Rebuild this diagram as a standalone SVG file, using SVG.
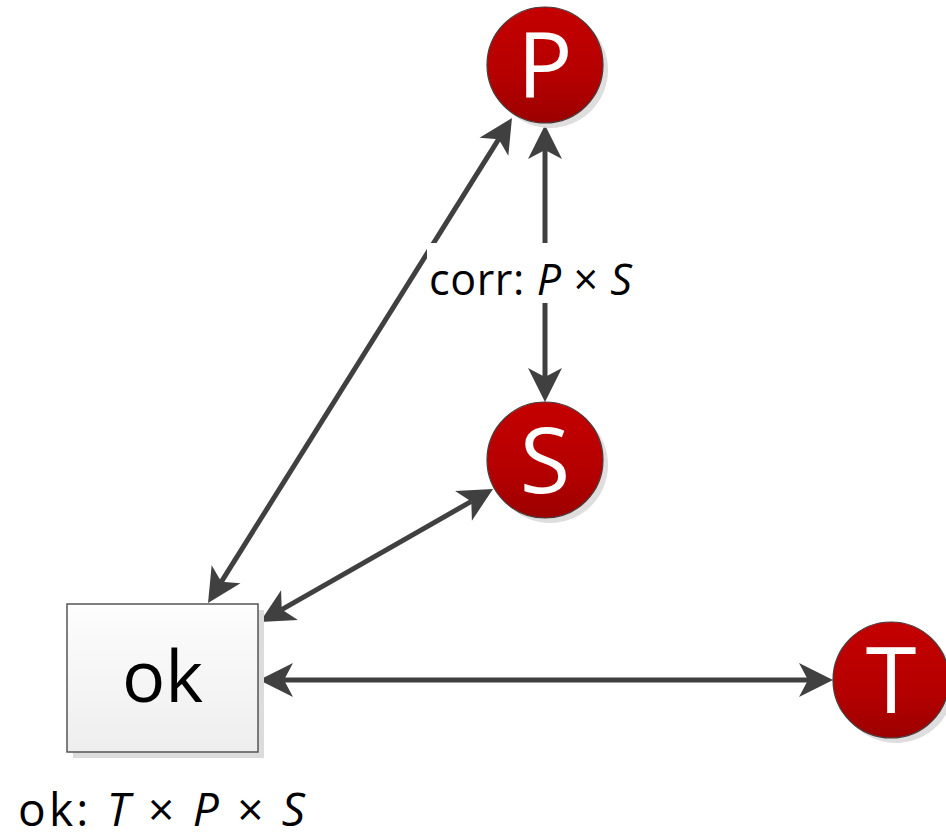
<svg xmlns="http://www.w3.org/2000/svg" width="946" height="839" viewBox="0 0 946 839">
<style>
.conn{stroke:#404040;stroke-width:5;fill:none;marker-start:url(#arr);marker-end:url(#arr)}
.circ{fill:url(#red);stroke:#4a3a3a;stroke-width:1.2}
.cshadow{fill:#dedede}
.letter{font-family:"Open Sans","Noto Sans",sans-serif;font-size:92px;fill:#ffffff;text-anchor:middle}
.lbl{font-family:"Open Sans","Noto Sans",sans-serif;fill:#000000}
</style>
<defs>
<linearGradient id="red" x1="0" y1="0" x2="0" y2="1">
<stop offset="0" stop-color="#c40000"/>
<stop offset="0.6" stop-color="#b50000"/>
<stop offset="1" stop-color="#9c0000"/>
</linearGradient>
<linearGradient id="box" x1="0" y1="0" x2="0" y2="1">
<stop offset="0" stop-color="#fdfdfd"/>
<stop offset="1" stop-color="#eeeeee"/>
</linearGradient>
<marker id="arr" viewBox="-10 -18 36 36" refX="0" refY="0" markerWidth="36" markerHeight="36" markerUnits="userSpaceOnUse" orient="auto-start-reverse" overflow="visible">
<path d="M25,0 L-9,-17 L0,0 L-9,17 Z" fill="#404040"/>
</marker>
</defs>
<rect width="946" height="839" fill="#ffffff"/>

<g id="connectors">
<line class="conn" x1="221.3" y1="581.8" x2="498.7" y2="139.2"/>
<line class="conn" x1="545" y1="377" x2="545" y2="150"/>
<line class="conn" x1="281.7" y1="609.6" x2="471.3" y2="501.4"/>
<line class="conn" x1="284" y1="680" x2="808" y2="680"/>
</g>

<g id="label-corr">
<rect x="427" y="243" width="214" height="60" fill="#ffffff"/>
<text class="lbl" x="429" y="295" font-size="43" textLength="203" lengthAdjust="spacing">corr: <tspan font-style="italic">P</tspan> × <tspan font-style="italic">S</tspan></text>
</g>

<g id="node-P">
<circle class="cshadow" cx="550" cy="70" r="58"/>
<circle class="circ" cx="545" cy="65" r="58"/>
<text class="letter" x="545" y="98">P</text>
</g>

<g id="node-S">
<circle class="cshadow" cx="550" cy="465" r="58"/>
<circle class="circ" cx="545" cy="460" r="58"/>
<text class="letter" x="545" y="493">S</text>
</g>

<g id="node-T">
<circle class="cshadow" cx="896" cy="685" r="58"/>
<circle class="circ" cx="891" cy="680" r="58"/>
<text class="letter" x="891" y="713">T</text>
</g>

<g id="node-ok">
<rect x="73" y="610" width="191" height="148" fill="#dcdcdc"/>
<rect x="67" y="604" width="191" height="148" fill="url(#box)" stroke="#555555" stroke-width="1.5"/>
<text class="lbl" x="162.5" y="702" font-size="72" text-anchor="middle">ok</text>
</g>

<g id="label-ok">
<text class="lbl" x="18" y="826" font-size="46" textLength="287" lengthAdjust="spacing">ok: <tspan font-style="italic">T</tspan> × <tspan font-style="italic">P</tspan> × <tspan font-style="italic">S</tspan></text>
</g>
</svg>
